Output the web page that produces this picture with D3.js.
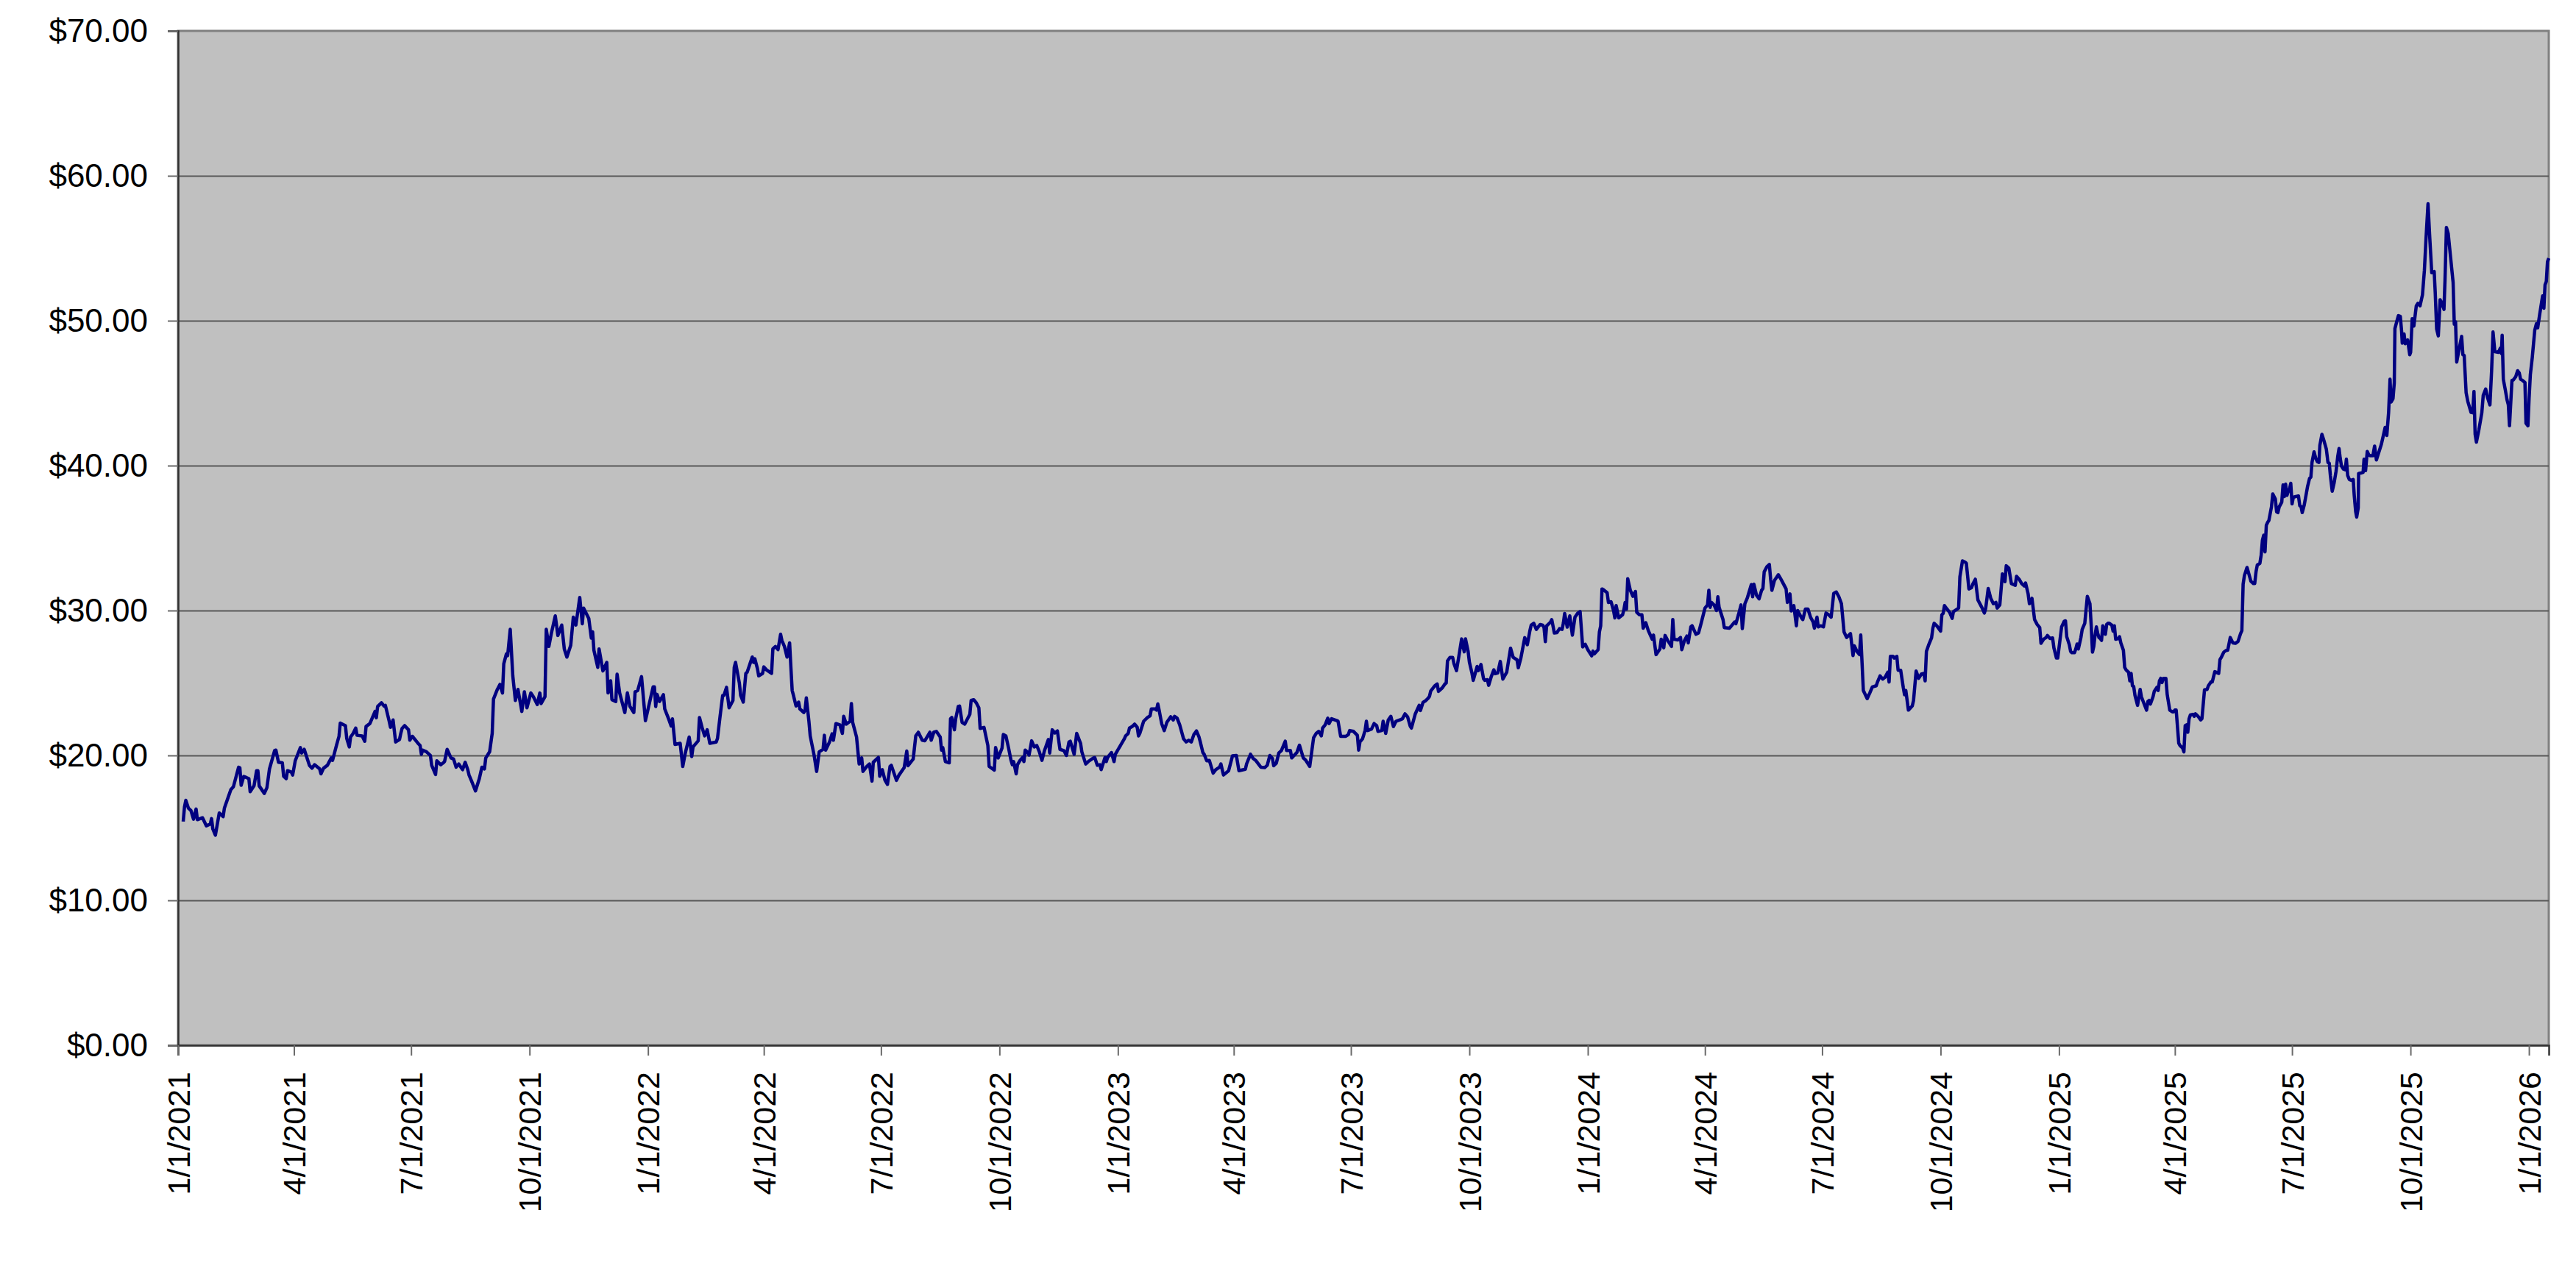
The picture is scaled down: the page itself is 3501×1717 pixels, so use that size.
<!DOCTYPE html>
<html lang="en">
<head>
  <meta charset="UTF-8">
  <title>Price history</title>
  <style>
    body { margin: 0; background: #fff; }
    text { font-family: "Liberation Sans", Arial, sans-serif; fill: #000; }
  </style>
</head>
<body>

  <section class="plot"></section>

  <script src="https://cdn.jsdelivr.net/npm/d3@7/dist/d3.min.js"></script>
  <script>
    // Data: trading day = days after 1/1/2021, price in $
    const startDate = "2021-01-01";
    const dayOffsets = [
      4,5,6,8,10,12,14,15,19,22,25,26,27,29,32,35,36,39,41,43,47,48,49,51,53,55,56,59,61,62,63,67,69,71,75,76,78,81,82,84,85,88,89,91,95,96,98,
      102,104,106,110,111,113,116,119,120,123,125,126,130,131,133,134,136,138,139,143,145,146,149,153,154,155,158,160,161,164,165,167,169,172,173,174,176,179,180,182,186,188,189,190,193,195,196,197,
      200,201,204,206,207,209,212,214,216,218,221,223,225,226,228,231,234,236,238,239,242,244,245,248,250,252,253,255,256,258,260,262,264,267,269,271,274,276,279,281,282,285,286,288,290,293,295,298,
      300,302,305,307,309,312,314,315,319,321,322,323,326,327,330,333,334,336,337,340,341,343,347,349,351,354,355,357,360,363,
      369,370,371,372,374,377,378,381,383,384,386,390,392,394,397,398,399,400,404,405,407,409,411,413,418,419,421,423,424,426,428,431,432,433,436,437,439,441,442,446,447,448,450,451,454,455,457,461,462,464,466,468,469,471,473,475,476,477,478,480,482,483,486,487,488,490,491,494,496,498,
      501,502,503,506,508,509,511,514,516,517,519,522,523,524,527,529,531,532,535,537,539,540,544,545,547,549,551,553,554,558,560,564,566,567,571,573,575,578,580,584,585,587,589,592,593,594,596,599,
      600,601,603,604,606,607,609,611,615,616,618,620,622,623,626,629,630,634,635,637,640,641,643,645,647,648,649,651,652,654,656,657,658,660,661,663,665,667,669,671,673,676,677,679,681,683,685,688,690,692,693,696,698,
      701,702,705,707,711,712,714,716,717,720,721,722,725,727,728,
      735,736,738,739,741,743,745,746,747,750,753,755,756,759,760,761,762,764,766,768,771,773,774,776,778,781,783,785,787,789,791,793,794,796,797,799,
      801,804,806,809,810,812,816,819,822,824,829,830,833,835,837,841,844,846,848,850,851,853,855,857,860,861,864,865,869,871,874,876,879,882,884,886,888,889,891,893,894,896,
      900,901,903,907,909,910,913,916,917,918,920,922,923,924,927,929,931,932,935,936,938,940,942,944,946,949,951,953,955,957,958,961,964,965,967,969,971,972,973,976,978,979,982,984,985,986,988,990,991,993,995,997,999,
      1000,1002,1003,1005,1006,1009,1010,1012,1014,1015,1017,1018,1020,1022,1023,1025,1027,1029,1032,1035,1037,1040,1041,1043,1046,1048,1050,1051,1053,1055,1058,1060,1061,1062,1063,1066,1067,1069,1071,1073,1075,1076,1077,1079,1081,1083,1085,1087,1089,1091,1093,1095,1098,1099,
      1100,1103,1104,1105,1106,1107,1110,1111,1113,1115,1116,1117,1119,1122,1123,1124,1125,1126,1128,1130,1132,1133,1135,1137,1138,1140,1142,1145,1146,1148,1151,1152,1154,1155,1157,1160,1161,1162,1165,1167,1168,1170,1172,1173,1175,1176,1179,1181,1183,1186,1188,1189,1190,1191,1193,1195,1196,1197,
      1200,1201,1205,1207,1209,1210,1212,1214,1215,1217,1219,1222,1223,1224,1226,1228,1230,1231,1232,1234,1236,1237,1238,1240,1243,1245,1246,1249,1250,1252,1253,1255,1257,1258,1261,1262,1264,1266,1268,1270,1271,1273,1274,1276,1278,1280,1282,1284,1286,1288,1290,1292,1294,1296,1299,
      1301,1302,1304,1306,1307,1309,1312,1314,1316,1319,1320,1322,1324,1326,1328,1329,1330,1332,1333,1335,1336,1338,1340,1341,1342,1344,1347,1348,1350,1352,1354,1356,1357,1358,1360,1362,1363,1364,1366,1369,1370,1371,1372,1374,1376,1378,1379,1381,1383,1384,1386,1388,1389,1391,1393,1394,1396,1398,
      1401,1403,1404,1406,1408,1410,1412,1413,1415,1417,1419,1420,1422,1424,1427,1428,1430,1432,1434,1435,1437,1438,1440,1442,1444,1446,1447,1449,1451,1452,1454,1456,1457,1459,1460,1463,1465,
      1466,1467,1469,1470,1471,1473,1474,1475,1476,1478,1479,1481,1482,1483,1485,1486,1487,1488,1489,1490,1491,1492,1493,1494,1495,1497,1498,1499,
      1500,1502,1503,1504,1505,1507,1508,1509,1511,1512,1513,1515,1516,1517,1518,1519,1520,1522,1524,1525,1527,1529,1530,1531,1532,1534,1535,1537,1538,1539,1540,1541,1542,1544,1545,1547,1549,1550,1551,1552,1554,1555,1557,1558,1559,1560,1561,1562,1563,1565,1566,1567,1569,1571,1572,1574,1576,1577,1579,1580,1582,1583,1585,1586,1587,1589,1591,1592,1593,1594,1596,1598,
      1600,1602,1603,1604,1605,1607,1608,1610,1612,1613,1614,1615,1617,1618,1619,1620,1621,1622,1623,1624,1626,1627,1629,1630,1631,1632,1634,1635,1636,1637,1638,1639,1640,1641,1642,1643,1645,1647,1648,
      1649.0,1649.9,1651.4,1652.8,1654.1,1655.6,1656.6,1657.5,1659.1,1660.4,1661.7,1662.9,1663.6,1665.2,1666.7,1668.6,1669.9,1670.9,1671.8,1673.2,1674.7,1676.2,1677.5,1678.5,1679.4,1680.4,1681.9,1683.3,1684.2,1685.2,1686.5,1688.0,1689.5,1690.3,1691.4,1692.2,1693.4,1693.7,1695.6,1697.2,1697.9,1699.1,
      1700.4,1701.7,1702.9,1704.8,1706.1,1707.5,1709.0,1711.3,1713.2,1714.3,1715.6,1717.0,1718.1,1718.9,1720.4,1721.4,1721.9,1723.3,1724.6,1726.1,1727.1,1727.6,1729.0,1729.9,1731.8,1733.4,1734.1,1735.3,1736.6,1738.5,1739.8,1741.4,1743.3,1744.8,1746.1,1747.6,1749.0,
      1750.5,1752.4,1753.2,1754.3,1755.6,1757.0,1758.5,1760.0,1760.8,1761.9,1763.3,1765.2,1767.1,1768.0,1769.0,1769.9,1771.5,1773.7,1774.7,1775.7,1777.2,1778.5,1781.0,1782.3,1783.3,1784.2,1785.2,1787.1,1789.4,1790.5,1792.4,1793.8,1795.7,1797.0,1798.1,1799.5,
      1802.3,1803.8,1804.6,1805.2,1806.1,1807.7,1809.0,1810.0,1810.9,1812.8,1813.8,1815.7,1817.2,1818.5,1819.5,1821.0,1822.9,1823.7,1825.2,1826.1,1827.1,1828.6,1830.5,1831.8,1832.8,1834.3,1836.6,1837.6,1838.5,1839.5,1840.4,1841.4
    ];
    const prices = [
      15.44,16.45,16.9,16.37,16.2,15.6,16.3,15.57,15.7,15.14,15.27,15.64,14.93,14.5,16.03,15.78,16.37,17.13,17.64,17.84,19.19,19.15,17.94,18.55,18.48,18.4,17.5,17.9,18.95,18.95,17.9,17.38,17.77,19.07,20.34,20.37,19.53,19.49,18.56,18.4,18.95,18.85,18.65,19.63,20.54,20.17,20.42,
      19.32,19.12,19.36,19.07,18.73,19.12,19.32,19.83,19.66,20.68,21.32,22.23,22.06,21.18,20.59,21.27,21.52,21.89,21.39,21.35,20.98,22.0,22.2,23.04,22.6,23.38,23.63,23.41,23.46,22.36,21.94,22.45,20.93,21.1,21.52,21.86,22.06,21.77,21.05,21.32,20.88,20.68,20.08,20.37,20.25,20.08,20.0,19.32,
      18.68,19.63,19.36,19.49,19.58,20.42,19.83,19.75,19.19,19.41,19.02,19.53,19.02,18.65,18.23,17.55,18.4,19.19,19.07,19.83,20.25,21.52,23.89,24.56,24.9,24.31,26.33,27.0,26.89,28.7,25.49,23.8,24.56,23.04,24.39,23.29,24.31,24.05,23.51,24.31,23.58,24.05,28.7,27.52,28.45,29.63,28.28,29.0,
      27.35,26.79,27.6,29.54,29.0,30.9,29.09,30.17,29.46,28.1,28.53,27.26,26.08,27.35,25.83,26.42,24.31,25.15,23.85,23.72,25.61,24.31,22.96,24.31,23.38,22.96,24.39,24.48,25.44,22.4,
      24.73,24.73,23.38,24.22,23.72,24.19,23.21,22.53,22.03,22.53,20.76,20.84,19.24,20.17,21.27,20.68,19.92,20.59,21.01,22.62,21.94,21.35,21.77,20.84,20.93,21.18,22.7,24.14,24.14,24.7,23.29,23.8,26.08,26.42,24.98,24.14,23.68,25.66,25.74,26.79,26.42,26.67,26.0,25.49,25.66,26.11,25.91,25.66,27.35,27.52,27.3,28.36,27.94,27.52,26.79,27.77,26.08,24.48,24.14,23.41,23.68,23.21,22.96,23.13,23.97,22.36,21.35,20.03,18.9,20.25,
      20.42,21.39,20.37,20.93,21.49,21.05,22.2,22.11,21.52,22.7,22.16,22.36,23.58,22.28,21.27,19.41,19.83,18.9,19.24,19.41,18.23,19.53,19.86,18.56,19.02,18.31,18.0,19.24,19.32,18.28,18.65,19.16,20.3,19.29,19.75,21.35,21.6,21.05,21.01,21.6,21.05,21.6,21.66,21.27,20.37,20.54,19.58,19.49,
      22.53,22.62,21.77,22.53,23.38,23.41,22.28,22.16,22.84,23.8,23.85,23.63,23.29,21.86,21.94,20.68,19.24,18.99,20.54,19.83,20.51,21.44,21.35,20.54,19.66,19.36,19.58,18.73,19.36,19.66,19.86,19.58,20.37,20.2,20.03,21.01,20.59,20.68,20.25,19.66,20.34,21.1,20.17,21.77,21.55,21.69,20.42,20.34,20.0,20.93,20.98,20.08,21.52,
      20.84,20.25,19.41,19.58,19.83,19.86,19.32,19.36,19.02,19.86,19.58,19.86,20.2,19.58,20.08,
      21.15,21.35,21.52,21.89,21.99,22.16,21.94,21.35,21.52,22.36,22.62,22.74,23.21,23.21,23.13,23.55,23.13,22.2,21.72,22.28,22.67,22.45,22.7,22.57,22.11,21.15,20.93,21.05,20.93,21.44,21.69,21.27,20.93,20.2,20.08,19.63,
      19.66,18.78,19.02,19.19,19.41,18.65,18.95,19.97,20.0,18.95,19.05,19.43,20.08,19.8,19.66,19.19,19.16,19.32,20.0,19.8,19.29,19.46,20.17,20.34,20.98,20.34,20.34,19.83,20.2,20.71,19.83,19.66,19.24,21.22,21.52,21.66,21.35,21.89,22.11,22.57,22.2,22.53,
      22.41,22.36,21.32,21.32,21.44,21.72,21.66,21.39,20.37,20.93,21.15,21.72,22.36,21.72,21.82,22.2,22.06,21.66,21.72,22.36,21.52,22.45,22.7,21.99,22.36,22.45,22.53,22.87,22.67,22.03,21.89,22.87,23.46,23.1,23.66,23.78,23.95,24.08,24.45,24.79,24.93,24.42,24.67,24.93,25.0,26.52,26.77,26.77,26.35,25.85,26.94,28.04,27.15,
      28.04,27.2,26.45,25.68,25.18,26.14,25.85,26.28,25.3,25.18,25.23,24.84,25.44,25.91,25.64,25.69,26.49,25.27,25.74,27.4,26.77,26.6,26.05,26.72,28.13,27.64,28.61,28.99,29.12,28.7,29.04,28.99,28.82,27.85,28.94,29.2,29.37,28.45,28.48,28.75,28.7,29.12,29.8,28.86,29.63,28.3,29.54,29.8,29.93,27.49,27.67,27.3,26.87,27.2,
      27.01,27.3,28.53,28.95,31.49,31.45,31.23,30.56,30.61,30.0,29.49,30.34,29.49,29.71,30.05,30.56,30.1,32.2,31.4,30.98,31.32,29.88,29.71,29.71,28.78,29.16,28.61,28.02,28.31,26.96,27.35,28.02,27.43,28.28,27.94,27.52,29.38,28.02,27.97,28.14,27.3,27.91,28.24,27.77,28.87,28.95,28.36,28.45,29.12,30.17,30.39,31.4,30.22,30.56,30.39,30.0,30.95,30.22,
      29.38,28.82,28.78,28.99,29.21,29.09,29.71,30.39,28.75,30.47,30.9,31.79,30.95,31.82,31.06,30.81,31.4,31.52,32.67,33.01,33.18,32.16,31.4,32.08,32.47,32.16,32.0,31.49,30.56,31.15,29.97,30.34,28.95,30.0,29.49,29.38,30.1,30.1,29.54,29.21,28.78,29.54,28.87,28.95,28.87,29.83,29.71,29.54,31.18,31.28,30.95,30.47,28.53,28.14,28.41,
      26.89,27.57,27.18,26.96,28.31,24.48,23.92,24.31,24.73,24.81,25.07,25.49,25.27,25.41,25.74,25.07,26.84,26.84,26.72,26.84,25.88,25.88,24.7,24.19,24.48,23.13,23.41,23.8,25.83,25.32,25.61,25.66,25.15,27.18,27.69,28.11,28.78,29.12,28.95,28.58,29.71,29.8,30.34,30.1,29.88,29.46,29.93,30.05,30.17,32.33,33.43,33.34,33.26,31.49,31.57,31.82,32.16,30.73,
      30.22,29.83,30.13,31.52,30.84,30.47,30.56,30.17,30.39,32.53,31.99,33.09,32.92,31.86,31.74,32.36,32.16,31.86,31.69,31.9,31.15,30.47,30.84,29.38,29.04,28.82,27.74,28.02,28.14,28.28,28.07,28.11,27.43,26.72,26.72,28.87,29.26,
      29.29,28.19,27.64,27.18,27.09,27.09,27.35,27.69,27.35,28.14,28.7,29.12,30.05,30.98,30.47,28.95,27.13,27.52,28.31,28.87,28.45,28.14,28.07,27.94,28.95,28.36,29.04,29.12,
      29.12,28.99,28.58,28.95,28.02,28.07,28.19,27.77,27.26,26.08,25.91,25.74,25.15,25.66,24.81,24.76,24.14,23.46,24.56,24.05,23.58,23.13,23.72,23.8,23.55,24.05,24.43,24.7,24.48,25.15,25.32,25.03,25.32,25.32,24.22,23.13,23.01,23.01,23.13,23.13,20.84,20.68,20.51,20.25,22.06,22.11,21.6,22.53,22.79,22.84,22.7,22.87,22.7,22.45,22.53,24.53,24.56,24.81,25.07,25.07,25.78,25.74,25.66,26.62,26.76,27.13,27.26,27.26,27.69,28.14,27.77,27.74,
      27.86,28.41,28.61,31.82,32.42,32.97,32.67,32.03,31.86,31.86,32.67,33.14,33.26,33.82,34.86,35.2,34.05,35.88,36.08,36.22,37.15,38.04,37.7,36.81,36.76,37.15,37.48,38.67,37.87,38.72,37.94,38.21,38.38,38.78,37.36,37.82,37.87,37.91,37.23,
      37.18,36.76,37.26,37.94,38.58,39.12,39.21,40.22,40.95,40.51,40.27,40.22,41.4,42.16,41.74,41.15,40.22,40.17,39.29,38.24,38.82,39.63,40.64,41.18,40.51,39.97,39.76,39.71,40.44,39.32,39.04,38.99,39.04,37.94,36.84,36.45,37.09,39.46,39.49,39.54,40.44,39.66,
      40.98,40.73,40.68,40.68,41.35,40.39,40.81,41.45,42.2,42.64,42.08,43.68,45.96,44.39,44.61,45.71,49.46,49.93,50.35,50.3,49.26,48.45,49.09,48.41,48.67,47.65,47.82,50.14,49.63,51.03,51.2,51.03,51.79,53.48,55.76,58.07,55.67,
      53.31,53.39,51.96,49.43,48.95,51.45,51.2,50.78,52.8,56.44,56.01,54.32,52.64,49.76,49.93,47.15,47.91,48.92,47.65,47.6,45.03,44.44,43.68,43.65,45.12,42.16,41.62,42.47,43.65,44.86,45.29,44.7,44.19,46.55,49.22,47.87,
      47.82,48.11,47.74,49.0,45.96,45.2,44.53,44.19,42.75,45.88,45.91,46.13,46.55,46.39,45.96,45.88,45.74,42.92,42.75,44.61,46.3,47.48,49.34,49.8,49.51,50.41,51.71,50.86,52.47,52.72,54.07,54.32
    ];

    // Axis ticks
    const yTicks = [0, 10, 20, 30, 40, 50, 60, 70];
    const xTickLabels = [
      "1/1/2021", "4/1/2021", "7/1/2021", "10/1/2021",
      "1/1/2022", "4/1/2022", "7/1/2022", "10/1/2022",
      "1/1/2023", "4/1/2023", "7/1/2023", "10/1/2023",
      "1/1/2024", "4/1/2024", "7/1/2024", "10/1/2024",
      "1/1/2025", "4/1/2025", "7/1/2025", "10/1/2025",
      "1/1/2026"
    ];

    const dayMs = 864e5;
    const start = d3.utcParse("%Y-%m-%d")(startDate);
    const series = dayOffsets.map((d, i) => ({
      date: new Date(start.getTime() + d * dayMs),
      value: prices[i]
    }));
    const parseTick = d3.utcParse("%m/%d/%Y");
    const tickDates = xTickLabels.map(parseTick);

    // Svg
    const _plotSizes = { width: 3501, height: 1717 };
    const _plotMargins = { left: 242, right: 37, top: 42, bottom: 296 };
    const innerW = _plotSizes.width - _plotMargins.left - _plotMargins.right;
    const innerH = _plotSizes.height - _plotMargins.top - _plotMargins.bottom;

    const svg = d3.select(".plot")
      .append("svg")
        .attr("width", _plotSizes.width)
        .attr("height", _plotSizes.height)
        .style("display", "block")
      .append("g")
        .attr("transform", `translate(${_plotMargins.left},${_plotMargins.top})`);

    const x = d3.scaleUtc()
      .domain([start, d3.max(series, d => d.date)])
      .range([0, innerW]);
    const y = d3.scaleLinear()
      .domain([0, 70])
      .range([innerH, 0]);

    // Plot area
    svg.append("rect")
      .attr("width", innerW)
      .attr("height", innerH)
      .attr("fill", "#c0c0c0")
      .attr("stroke", "#808080")
      .attr("stroke-width", 3);

    // Gridlines
    svg.append("g")
      .attr("class", "grid")
      .call(d3.axisLeft(y).tickValues(yTicks.slice(1, -1)).tickSize(-innerW).tickFormat(""))
      .call(g => g.select(".domain").remove())
      .call(g => g.selectAll("line").attr("stroke", "#585858").attr("stroke-width", 2));

    // Y axis
    svg.append("g")
      .call(d3.axisLeft(y).tickValues(yTicks).tickSize(14).tickPadding(27)
        .tickFormat(d => "$" + d.toFixed(2)))
      .call(g => g.select(".domain").attr("stroke", "#333").attr("stroke-width", 2.5))
      .call(g => g.selectAll(".tick line").attr("stroke", "#6a6a6a").attr("stroke-width", 2))
      .call(g => g.selectAll("text")
        .attr("font-size", "44px")
        .attr("font-family", "'Liberation Sans', Arial, sans-serif")
        .attr("fill", "#000"));

    // X axis
    svg.append("g")
      .attr("transform", `translate(0,${innerH})`)
      .call(d3.axisBottom(x).tickValues(tickDates).tickSize(14)
        .tickFormat((d, i) => xTickLabels[i]))
      .call(g => g.select(".domain").attr("stroke", "#333").attr("stroke-width", 2.5))
      .call(g => g.selectAll(".tick line").attr("stroke", "#6a6a6a").attr("stroke-width", 2))
      .call(g => g.selectAll("text")
        .attr("font-size", "43px")
        .attr("font-family", "'Liberation Sans', Arial, sans-serif")
        .attr("fill", "#000")
        .attr("transform", "rotate(-90)")
        .attr("text-anchor", "end")
        .attr("x", -36)
        .attr("y", 0)
        .attr("dy", "0.35em"));

    // Price line
    const line = d3.line()
      .x(d => x(d.date))
      .y(d => y(d.value));

    svg.append("path")
      .datum(series)
      .attr("fill", "none")
      .attr("stroke", "#000080")
      .attr("stroke-width", 4.5)
      .attr("stroke-linejoin", "round")
      .attr("d", line);
  </script>
</body>
</html>
